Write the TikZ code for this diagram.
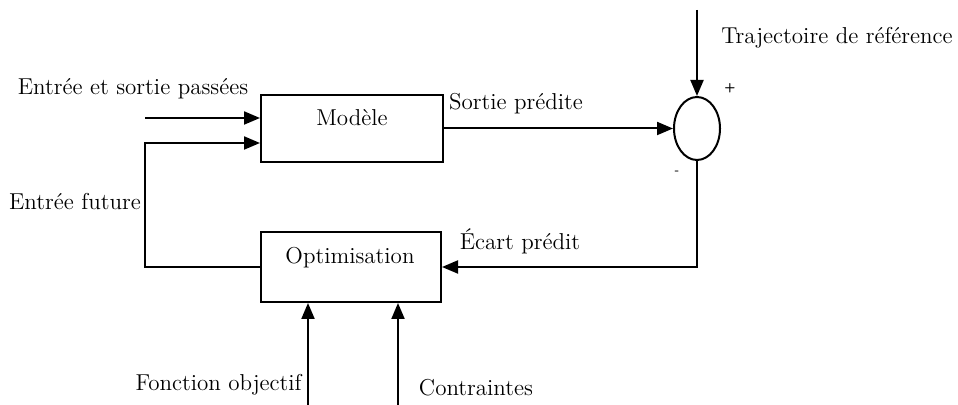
\documentclass[tikz,border=0pt]{standalone}
\usetikzlibrary{arrows.meta,shapes.geometric}
\begin{document}
\begin{tikzpicture}[x=0.5pt,y=-0.5pt,
  every node/.style={font=\fontsize{11.5}{13}\selectfont},
  box/.style={draw,line width=1pt,rectangle,inner sep=0pt},
  lab/.style={inner sep=0pt},
  sgn/.style={inner sep=0pt,font=\fontsize{6.5}{7}\sffamily\bfseries},
  conn/.style={line width=1pt},
  arr/.style={line width=1pt,-{Triangle[length=8pt,width=6.5pt]}}]
\useasboundingbox (0,0) rectangle (958,405);
\node[box,minimum width=91pt,minimum height=33.5pt] (mod) at (352,128.5) {};
\node[lab] (modt) at (352,118) {Modèle};
\node[box,minimum width=90pt,minimum height=35pt] (opt) at (351,267) {};
\node[lab] (optt) at (350,258) {Optimisation};
\node[draw,line width=1pt,ellipse,minimum width=23pt,minimum height=31.5pt,inner sep=0pt] (sum) at (697,128.5) {};
\coordinate (in1) at (145,118);
\coordinate (ref) at (697,10);
\coordinate (fo) at (308,405);
\coordinate (ct) at (398,405);
\coordinate (c1) at (145,267);
\coordinate (c2) at (145,143);
\coordinate (c3) at (697,267);
\draw[arr] (in1) -- (in1 -| mod.west);
\draw[arr] (opt.west |- c1) -- (c1) -- (c2) -- (c2 -| mod.west);
\draw[arr] (mod.east |- sum) -- (sum.west);
\draw[arr] (ref) -- (sum.north);
\draw[arr] (sum.south) -- (c3) -- (c3 -| opt.east);
\draw[arr] (fo) -- (fo |- opt.south);
\draw[arr] (ct) -- (ct |- opt.south);
\node[lab] (t1) at (133,89) {Entrée et sortie passées};
\node[lab] (t2) at (516,104) {Sortie prédite};
\node[lab] (t3) at (837,38) {Trajectoire de référence};
\node[lab] (t4) at (75,202) {Entrée future};
\node[lab] (t5) at (520,241) {Écart prédit};
\node[lab,anchor=east] (t6) at (302,385) {Fonction objectif};
\node[lab] (t7) at (476,388) {Contraintes};
\node[sgn] (plus) at (730,88) {+};
\node[sgn] (minus) at (677,173) {-};
\end{tikzpicture}
\end{document}
